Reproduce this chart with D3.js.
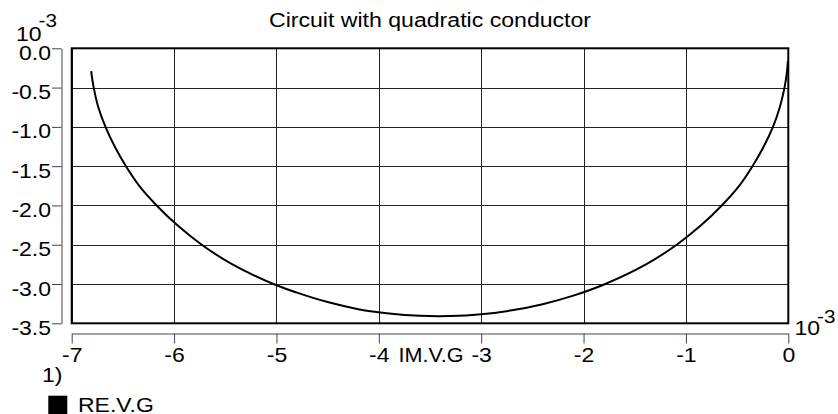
<!DOCTYPE html>
<html>
<head>
<meta charset="utf-8">
<script src="https://cdn.jsdelivr.net/npm/d3@7"></script>
<style>
  html, body { margin: 0; padding: 0; background: #fff; }
  svg { display: block; }
  text { font-family: "Liberation Sans", Arial, sans-serif; fill: #000; }
</style>
</head>
<body>
<svg id="chart" width="838" height="414"></svg>
<script>
// IM.V.G (x) and RE.V.G (y), both in units of 10^-3
const imVG = [-6.81, -6.785, -6.74, -6.67, -6.58, -6.47, -6.34, -6.17, -5.97, -5.73, -5.43, -5.03,
              -4.80, -4.50, -4.20, -3.90, -3.60, -3.30, -3.00, -2.70, -2.40, -2.10, -1.80,
              -1.39, -1.09, -0.85, -0.65, -0.48, -0.35, -0.24, -0.15, -0.083, -0.037, -0.013, -0.004];
const reVG = [-0.29, -0.50, -0.75, -1.00, -1.25, -1.50, -1.75, -2.00, -2.25, -2.50, -2.75, -3.00,
              -3.11, -3.23, -3.32, -3.375, -3.405, -3.408, -3.385, -3.335, -3.257, -3.148, -3.006,
              -2.75, -2.50, -2.25, -2.00, -1.75, -1.50, -1.25, -1.00, -0.75, -0.50, -0.30, -0.16];

const xTicks = [-7, -6, -5, -4, -3, -2, -1, 0];
const xTickLabels = ["-7", "-6", "-5", "-4", "-3", "-2", "-1", "0"];
const yTicks = [0, -0.5, -1, -1.5, -2, -2.5, -3, -3.5];
const yTickLabels = ["0.0", "-0.5", "-1.0", "-1.5", "-2.0", "-2.5", "-3.0", "-3.5"];

const titleText = "Circuit with quadratic conductor";
const xLabel = "IM.V.G";
const seriesName = "RE.V.G";

const svg = d3.select("#chart");
const SX = 1.15;           // horizontal widening of the lettering
const FS = 20;

const plotL = 71.7, plotR = 788.3, plotT = 48.3, plotB = 323.3;
const x = d3.scaleLinear().domain([-7, 0]).range([plotL, plotR]);
const y = d3.scaleLinear().domain([0, -3.5]).range([plotT, plotB]);

function stretchedText(g, tx, ty, str, size, anchor, sx) {
  return g.append("text")
    .attr("transform", `translate(${tx},${ty}) scale(${sx || SX},1)`)
    .attr("font-size", size)
    .attr("text-anchor", anchor || "start")
    .text(str);
}

// grid
const grid = svg.append("g").attr("stroke", "#222").attr("stroke-width", 1);
grid.selectAll("line.v").data(xTicks).join("line").attr("class", "v")
  .attr("x1", d => Math.round(x(d)) + 0.5).attr("x2", d => Math.round(x(d)) + 0.5)
  .attr("y1", plotT).attr("y2", plotB);
grid.selectAll("line.h").data(yTicks).join("line").attr("class", "h")
  .attr("x1", plotL).attr("x2", plotR)
  .attr("y1", d => Math.round(y(d)) + 0.5).attr("y2", d => Math.round(y(d)) + 0.5);

// frame
svg.append("rect")
  .attr("x", plotL).attr("y", plotT)
  .attr("width", plotR - plotL).attr("height", plotB - plotT)
  .attr("fill", "none").attr("stroke", "#000").attr("stroke-width", 2);

// curve
const line = d3.line()
  .x((d, i) => x(imVG[i]))
  .y((d, i) => y(reVG[i]))
  .curve(d3.curveCatmullRom.alpha(0.5));
svg.append("path")
  .attr("d", line(imVG))
  .attr("fill", "none").attr("stroke", "#000").attr("stroke-width", 2);

// y axis (detached, left of the frame)
const yAxis = d3.axisLeft(y).tickValues(yTicks)
  .tickFormat((d, i) => yTickLabels[i]).tickSize(9.5).tickPadding(2).tickSizeOuter(0);
const gy = svg.append("g").attr("transform", "translate(61.5,0)").call(yAxis);
gy.attr("font-family", null);
gy.select(".domain").attr("stroke", "#444");
gy.selectAll(".tick line").attr("stroke", "#444");
gy.selectAll(".tick text")
  .attr("font-size", FS)
  .attr("x", -10.5 / SX).attr("y", 11).attr("dy", null)
  .attr("transform", `scale(${SX},1)`);

// x axis (detached, below the frame)
const xAxis = d3.axisBottom(x).tickValues(xTicks)
  .tickFormat((d, i) => xTickLabels[i]).tickSize(10).tickSizeOuter(0);
const gx = svg.append("g").attr("transform", "translate(0,333.5)").call(xAxis);
gx.attr("font-family", null);
gx.select(".domain").attr("stroke", "#444");
gx.selectAll(".tick line").attr("stroke", "#444");
gx.selectAll(".tick text")
  .attr("font-size", FS)
  .attr("y", 28.5).attr("dy", null)
  .attr("transform", `scale(${SX},1)`);

// title
stretchedText(svg, 430, 27, titleText, 21, "middle", 1.1);

// exponent markers
stretchedText(svg, 16, 41, "10", FS);
stretchedText(svg, 38.5, 26.5, "-3", 18);
stretchedText(svg, 794.5, 335, "10", FS);
stretchedText(svg, 817, 322.5, "-3", 18);

// x label
stretchedText(svg, 431, 362, xLabel, FS, "middle", 1.08);

// legend
stretchedText(svg, 42, 381.5, "1)", FS);
svg.append("rect").attr("x", 48.3).attr("y", 395.7).attr("width", 19).attr("height", 19).attr("fill", "#000");
stretchedText(svg, 78, 411.5, seriesName, FS);
</script>
</body>
</html>
